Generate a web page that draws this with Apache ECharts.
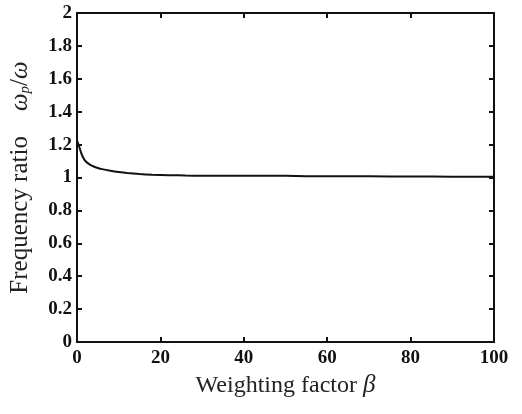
<!DOCTYPE html>
<html>
<head>
<meta charset="utf-8">
<script src="https://cdn.jsdelivr.net/npm/echarts@6/dist/echarts.min.js"></script>
<style>
    html,body{margin:0;padding:0;background:#fff;}
    #chart{width:522px;height:414px;}
</style>
</head>
<body>
<div id="chart"></div>
<script>
// weighting factor beta (x) and frequency ratio omega_p/omega (y)
var beta=[0,0.5,1,1.5,2,3,4,5,6,8,10,12,15,18,22,26,30,35,40,45,50,55,60,70,80,90,100];
var ratio=[1.225,1.19,1.15,1.12,1.1,1.08,1.067,1.058,1.051,1.041,1.033,1.027,1.021,1.017,1.014,1.012,1.011,1.011,1.011,1.011,1.01,1.008,1.008,1.007,1.006,1.005,1.004];
var xTicks=[0,20,40,60,80,100];
var yTicks=[0,0.2,0.4,0.6,0.8,1,1.2,1.4,1.6,1.8,2];

window.onload=function(){
    var chart=echarts.init(document.getElementById('chart'));
    var points=beta.map(function(b,i){return [b,ratio[i]];});
    var serif='"Liberation Serif","Times New Roman",serif';
    var lineStyle={color:'#111',width:2};
    var tick={show:true,inside:true,length:5,lineStyle:{color:'#111',width:2}};

    function yLabel(v){
        // tick labels are printed like 1, 1.2, 0.4 (no trailing zeros)
        return yTicks.indexOf(Math.round(v*10)/10)>=0 ? String(Math.round(v*10)/10) : '';
    }

    chart.setOption({
        animation:false,
        backgroundColor:'#fff',
        grid:{left:77,right:28,top:13,bottom:72},
        xAxis:[
            {
                type:'value',min:xTicks[0],max:xTicks[xTicks.length-1],interval:20,position:'bottom',
                axisLine:{show:true,onZero:false,lineStyle:lineStyle},
                axisTick:tick,
                splitLine:{show:false},
                axisLabel:{color:'#111',fontFamily:serif,fontWeight:'bold',fontSize:19,margin:7},
                name:'Weighting factor {b|β}',
                nameLocation:'middle',
                nameGap:23,
                nameTextStyle:{
                    color:'#222',fontFamily:serif,fontSize:24,
                    rich:{b:{fontFamily:serif,fontStyle:'italic',fontSize:25,color:'#222'}}
                }
            },
            {
                type:'value',min:xTicks[0],max:xTicks[xTicks.length-1],interval:20,position:'top',
                axisLine:{show:true,onZero:false,lineStyle:lineStyle},
                axisTick:tick,
                axisLabel:{show:false},
                splitLine:{show:false}
            }
        ],
        yAxis:[
            {
                type:'value',min:yTicks[0],max:yTicks[yTicks.length-1],interval:0.2,position:'left',
                axisLine:{show:true,onZero:false,lineStyle:lineStyle},
                axisTick:tick,
                splitLine:{show:false},
                axisLabel:{color:'#111',fontFamily:serif,fontWeight:'bold',fontSize:19,margin:5,formatter:yLabel},
                name:'Frequency ratio    {w|ω}{p|p}{n|/}{w|ω}',
                nameLocation:'middle',
                nameGap:44,
                nameTextStyle:{
                    color:'#222',fontFamily:serif,fontSize:25,
                    rich:{
                        w:{fontFamily:serif,fontStyle:'italic',fontSize:25,color:'#222'},
                        p:{fontFamily:serif,fontStyle:'italic',fontSize:15,color:'#222',padding:[10,0,0,0]},
                        n:{fontFamily:serif,fontSize:25,color:'#222'}
                    }
                }
            },
            {
                type:'value',min:yTicks[0],max:yTicks[yTicks.length-1],interval:0.2,position:'right',
                axisLine:{show:true,onZero:false,lineStyle:lineStyle},
                axisTick:tick,
                axisLabel:{show:false},
                splitLine:{show:false}
            }
        ],
        series:[
            {
                name:'ratio',
                type:'line',
                xAxisIndex:0,
                yAxisIndex:0,
                data:points,
                showSymbol:false,
                smooth:0.2,
                lineStyle:{color:'#111',width:2},
                z:5
            }
        ]
    });
};
</script>
</body>
</html>
